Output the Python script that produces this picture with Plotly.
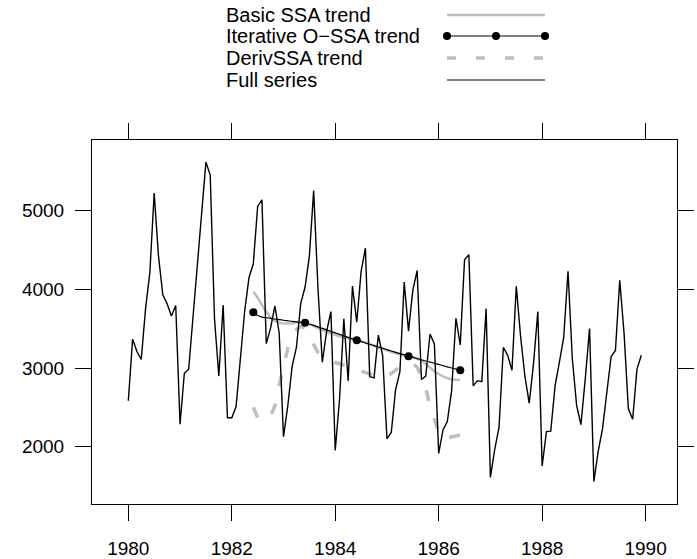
import plotly.graph_objects as go

# ---- data ----
start_year = 1980
series_values = [
    2585, 3368, 3210, 3111, 3756, 4216, 5225, 4426, 3932, 3816, 3661, 3795,
    2285, 2934, 2985, 3646, 4198, 4935, 5618, 5454, 3624, 2898, 3802, 2369,
    2369, 2511, 3079, 3728, 4151, 4326, 5054, 5138, 3310, 3508, 3790, 3446,
    2127, 2523, 3017, 3265, 3822, 4027, 4420, 5255, 4009, 3074, 3465, 3718,
    1954, 2604, 3626, 2836, 4042, 3584, 4225, 4523, 2892, 2876, 3420, 3159,
    2101, 2181, 2724, 2954, 4092, 3470, 3990, 4239, 2855, 2897, 3433, 3307,
    1914, 2214, 2320, 2714, 3633, 3295, 4377, 4442, 2774, 2840, 2828, 3758,
    1610, 1968, 2248, 3262, 3164, 2972, 4041, 3402, 2898, 2555, 3056, 3717,
    1755, 2193, 2198, 2777, 3076, 3389, 4231, 3118, 2524, 2280, 2862, 3502,
    1558, 1940, 2226, 2676, 3145, 3224, 4117, 3446, 2482, 2349, 2986, 3163,
]
trend_start_index = 29  # June 1982

basic_ssa_trend = [
    3971, 3894, 3801, 3717, 3645, 3600, 3578, 3568, 3565, 3568, 3575, 3578, 3572,
    3555, 3535, 3510, 3485, 3462, 3440, 3420, 3403, 3390, 3378, 3366, 3356,
    3343, 3325, 3305, 3285, 3265, 3245, 3225, 3205, 3188, 3175, 3163, 3152,
    3140, 3120, 3090, 3050, 3005, 2960, 2925, 2895, 2873, 2858, 2850, 2848,
]
ossa_trend = [
    3709, 3668, 3648, 3640, 3632, 3624, 3616, 3608, 3601, 3594, 3588, 3582, 3577,
    3560, 3542, 3523, 3504, 3485, 3466, 3447, 3428, 3409, 3390, 3371, 3353,
    3336, 3319, 3302, 3285, 3268, 3251, 3234, 3217, 3200, 3184, 3167, 3150,
    3135, 3120, 3105, 3090, 3076, 3061, 3046, 3031, 3016, 3001, 2987, 2972,
]
derivssa_trend = [
    2500, 2370, 2330, 2340, 2390, 2520, 2780, 3000, 3250, 3400, 3490, 3530, 3510,
    3400, 3290, 3200, 3150, 3120, 3090, 3070, 3055, 3040, 3020, 3000, 2985,
    2965, 2945, 2920, 2905, 2895, 2890, 2895, 2930, 2980, 3020, 3050, 3070,
    3060, 3010, 2900, 2740, 2520, 2340, 2180, 2100, 2110, 2130, 2140, 2150,
]
x_tick_values = [1980, 1982, 1984, 1986, 1988, 1990]
y_tick_values = [2000, 3000, 4000, 5000]
legend_labels = ["Basic SSA trend", "Iterative O\u2212SSA trend", "DerivSSA trend", "Full series"]

# ---- build ----
t_full = [start_year + i / 12 for i in range(len(series_values))]
t_trend = [start_year + (trend_start_index + i) / 12 for i in range(len(ossa_trend))]

GRAY = "#BEBEBE"
FONT = "Liberation Sans, Arial, Helvetica, sans-serif"

fig = go.Figure()
fig.add_trace(go.Scatter(x=t_trend, y=derivssa_trend, mode="lines",
                         line=dict(color=GRAY, width=3.5, dash="11px,18px"),
                         showlegend=False, hoverinfo="skip"))
fig.add_trace(go.Scatter(x=t_trend, y=basic_ssa_trend, mode="lines",
                         line=dict(color=GRAY, width=2.5, shape="spline"),
                         showlegend=False, hoverinfo="skip"))
fig.add_trace(go.Scatter(x=t_full, y=series_values, mode="lines",
                         line=dict(color="black", width=1.4),
                         showlegend=False, hoverinfo="skip"))
fig.add_trace(go.Scatter(x=t_trend, y=ossa_trend, mode="lines",
                         line=dict(color="black", width=1.2, shape="spline"),
                         showlegend=False, hoverinfo="skip"))
fig.add_trace(go.Scatter(x=t_trend[::12], y=ossa_trend[::12], mode="markers",
                         marker=dict(color="black", size=8),
                         showlegend=False, hoverinfo="skip"))

# ---- geometry ----
W, H = 697, 559
ml, mr, mt, mb = 92, 20, 140, 55
pw, ph = W - ml - mr, H - mt - mb


def px_x(px):
    return (px - ml) / pw


def px_y(py):
    return (H - mb - py) / ph


row_y = [15, 36, 58, 80]
text_x = 224
line_x0, line_x1 = 447, 545
shapes = []
annotations = []
for lab, ry in zip(legend_labels, row_y):
    annotations.append(dict(x=px_x(text_x), y=px_y(ry), xref="paper", yref="paper",
                            text=lab, showarrow=False, xanchor="left", yanchor="middle",
                            font=dict(family=FONT, size=20, color="black")))
styles = [
    dict(color=GRAY, width=2.5),
    dict(color="black", width=1.2),
    dict(color=GRAY, width=3.5, dash="9px,20px"),
    dict(color="black", width=1.2),
]
for st, ry in zip(styles, row_y):
    shapes.append(dict(type="line", xref="paper", yref="paper",
                       x0=px_x(line_x0), x1=px_x(line_x1), y0=px_y(ry), y1=px_y(ry), line=st))
r = 4
for cx in (447, 496, 545):
    shapes.append(dict(type="circle", xref="paper", yref="paper",
                       x0=px_x(cx - r), x1=px_x(cx + r), y0=px_y(row_y[1] + r), y1=px_y(row_y[1] - r),
                       fillcolor="black", line=dict(color="black", width=0)))

axis_common = dict(showline=True, linecolor="black", linewidth=1, mirror="ticks",
                   ticks="outside", ticklen=16, tickwidth=1, tickcolor="black",
                   showgrid=False, zeroline=False, automargin=False,
                   tickfont=dict(family=FONT, size=19, color="black"))

fig.update_layout(
    width=W, height=H,
    margin=dict(l=ml, r=mr, t=mt, b=mb, pad=0, autoexpand=False),
    paper_bgcolor="white", plot_bgcolor="white",
    xaxis=dict(range=[1979.298, 1990.607], tickvals=x_tick_values, ticklabelstandoff=11, **axis_common),
    yaxis=dict(range=[1272, 5899], tickvals=y_tick_values, ticklabelstandoff=7, **axis_common),
    shapes=shapes, annotations=annotations,
    showlegend=False,
)

fig.write_html("out.html", config={"displayModeBar": False, "staticPlot": True},
               post_script="document.body.style.margin='0px';document.body.style.overflow='hidden';")
